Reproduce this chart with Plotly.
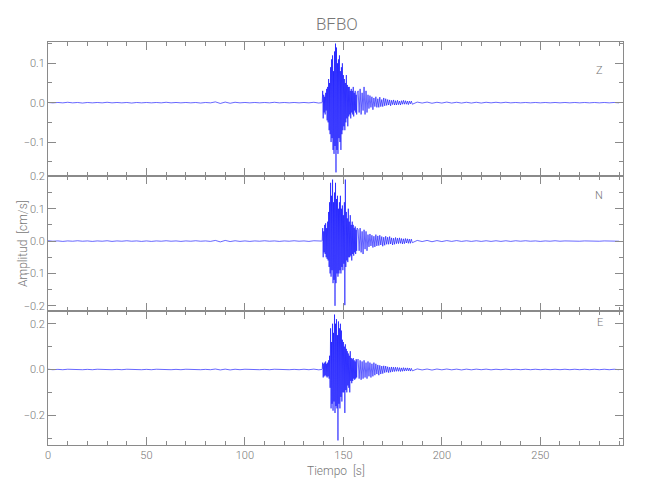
import numpy as np
import plotly.graph_objects as go
from plotly.subplots import make_subplots

station = "BFBO"
components = ["Z", "N", "E"]

# ---- pre-event noise, t = 0 .. 137.5 s (every 2.5 s) ----
z_pre = [0.0005,-0.0005,0.0005,-0.0005,0.001,-0.0005,0.0005,-0.001,0.0005,-0.0005,
         0.0005,-0.0005,0.001,-0.0005,0.0005,-0.0005,0.0005,-0.001,0.0005,-0.0005,
         0.0005,-0.0005,0.0005,-0.0005,0.001,-0.0005,0.0005,-0.0005,0.0005,-0.0005,
         0.0005,-0.001,0.0005,-0.0005,0.002,-0.002,0.0015,-0.0015,0.001,-0.0005,
         0.0005,-0.0005,0.0005,-0.0005,0.0005,-0.0005,0.001,-0.0005,0.0005,-0.0005,
         0.0005,-0.0005,0.0005,-0.0005,0.001,-0.001]
n_pre = [0.001,-0.0005,0.0005,-0.001,0.0005,-0.0005,0.001,-0.0005,0.0005,-0.001,
         0.0005,-0.0005,0.001,-0.001,0.0005,-0.0005,0.001,-0.0005,0.0005,-0.001,
         0.0005,-0.001,0.0005,-0.0005,0.001,-0.0005,0.0005,-0.001,0.0005,-0.0005,
         0.001,-0.0005,0.0005,-0.001,0.002,-0.0025,0.002,-0.0015,0.001,-0.001,
         0.0005,-0.001,0.0005,-0.0005,0.001,-0.0005,0.0005,-0.001,0.0005,-0.0005,
         0.001,-0.0005,0.0005,-0.001,0.001,-0.001]
e_pre = [0.001,-0.001,0.0005,-0.001,0.001,-0.0005,0.001,-0.001,0.0005,-0.001,
         0.001,-0.0005,0.001,-0.001,0.0005,-0.001,0.001,-0.0005,0.001,-0.001,
         0.0005,-0.001,0.001,-0.0005,0.001,-0.001,0.0005,-0.001,0.001,-0.0005,
         0.001,-0.001,0.0005,-0.001,0.002,-0.002,0.0015,-0.002,0.001,-0.001,
         0.001,-0.0005,0.001,-0.001,0.0005,-0.001,0.001,-0.0005,0.001,-0.001,
         0.0005,-0.001,0.001,-0.001,0.0015,-0.0015]

# ---- main arrivals, t = 139.0 .. 157.0 s (every 0.25 s) ----
z_main = [0.0, 0.001, 0.03, -0.04, 0.02, -0.025, 0.015, -0.03,
          0.025, -0.02, 0.035, -0.045, 0.04, -0.05, 0.06, -0.07,
          0.05, -0.08, 0.09, -0.1, 0.11, -0.09, 0.12, -0.12,
          0.08, -0.13, 0.13, -0.11, 0.15, -0.177, 0.14, -0.12,
          0.1, -0.13, 0.11, -0.09, 0.12, -0.1, 0.08, -0.12,
          0.09, -0.08, 0.1, -0.07, 0.07, -0.06, 0.06, -0.07,
          0.05, -0.05, 0.07, -0.04, 0.045, -0.06, 0.04, -0.035,
          0.04, -0.03, 0.03, -0.04, 0.035, -0.025, 0.03, -0.03,
          0.04, -0.035, 0.025, -0.02, 0.03, -0.025, 0.02, -0.03,
          0.025]
n_main = [0.0, 0.002, 0.04, -0.05, 0.03, -0.035, 0.05, -0.04,
          0.055, -0.05, 0.04, -0.055, 0.06, -0.06, 0.09, -0.08,
          0.12, -0.1, 0.18, -0.11, 0.14, -0.09, 0.19, -0.13,
          0.12, -0.12, 0.15, -0.2, 0.18, -0.13, 0.13, -0.1,
          0.14, -0.11, 0.1, -0.1, 0.12, -0.09, 0.14, -0.1,
          0.1, -0.08, 0.11, -0.09, 0.08, -0.07, 0.12, -0.198,
          0.19, -0.08, 0.09, -0.06, 0.07, -0.065, 0.1, -0.05,
          0.06, -0.05, 0.08, -0.045, 0.05, -0.06, 0.06, -0.04,
          0.05, -0.045, 0.04, -0.035, 0.045, -0.04, 0.035, -0.03,
          0.04]
e_main = [0.0, 0.003, 0.03, -0.035, 0.025, -0.03, 0.03, -0.025,
          0.035, -0.03, 0.025, -0.035, 0.03, -0.03, 0.04, -0.04,
          0.06, -0.08, 0.18, -0.17, 0.12, -0.15, 0.2, -0.18,
          0.16, -0.14, 0.24, -0.19, 0.2, -0.16, 0.22, -0.17,
          0.15, -0.31, 0.21, -0.15, 0.18, -0.17, 0.2, -0.12,
          0.17, -0.14, 0.13, -0.1, 0.12, -0.1, 0.1, -0.19,
          0.11, -0.09, 0.09, -0.1, 0.08, -0.07, 0.07, -0.08,
          0.06, -0.1, 0.08, -0.05, 0.05, -0.06, 0.045, -0.05,
          0.05, -0.04, 0.04, -0.045, 0.035, -0.04, 0.045, -0.035,
          0.04]

# ---- coda, t = 157.5 .. 185.0 s (every 0.5 s) ----
z_coda = [0.03,-0.025,0.035,-0.03,0.025,-0.02,0.04,-0.03,0.03,-0.025,
          0.02,-0.015,0.018,-0.012,0.015,-0.018,0.012,-0.01,0.015,-0.012,
          0.01,-0.012,0.014,-0.01,0.008,-0.01,0.012,-0.008,0.01,-0.007,
          0.008,-0.006,0.007,-0.008,0.006,-0.005,0.007,-0.006,0.005,-0.006,
          0.006,-0.005,0.004,-0.006,0.005,-0.004,0.006,-0.004,
          0.005,-0.004,0.004,-0.005,0.004,-0.003,0.004,-0.004]
n_coda = [0.035,-0.03,0.04,-0.035,0.03,-0.04,0.035,-0.025,0.03,-0.03,
          0.02,-0.018,0.022,-0.015,0.018,-0.02,0.015,-0.018,0.02,-0.015,
          0.016,-0.014,0.018,-0.012,0.014,-0.016,0.012,-0.013,0.015,-0.01,
          0.012,-0.01,0.014,-0.009,0.01,-0.012,0.009,-0.01,0.011,-0.008,
          0.009,-0.008,0.01,-0.007,0.008,-0.009,0.007,-0.008,
          0.008,-0.006,0.007,-0.007,0.006,-0.007,0.006,-0.005]
e_coda = [0.045,-0.04,0.04,-0.045,0.035,-0.04,0.04,-0.035,0.03,-0.04,
          0.035,-0.03,0.03,-0.035,0.025,-0.03,0.03,-0.025,0.025,-0.02,
          0.02,-0.025,0.018,-0.02,0.015,-0.018,0.016,-0.014,0.015,-0.012,
          0.012,-0.014,0.01,-0.012,0.011,-0.01,0.01,-0.009,0.01,-0.008,
          0.009,-0.008,0.008,-0.009,0.007,-0.008,0.008,-0.007,
          0.007,-0.006,0.007,-0.006,0.006,-0.007,0.005,-0.006]

# ---- late noise, t = 187.5 .. 290 s (every 2.5 s) ----
z_late = [0.0015,-0.001,0.0015,-0.0015,0.001,-0.001,0.0015,-0.001,0.001,-0.001,
          0.001,-0.001,0.001,-0.001,0.001,-0.0005,0.001,-0.0005,0.001,-0.0005,
          0.0005,-0.0005,0.0005,-0.0005,0.0005,-0.0005,0.0005,-0.0005,0.0005,-0.0005,
          0.0005,-0.0005,0.0005,-0.0005,0.0005,-0.0005,0.0005,-0.0005,0.0005,-0.0005,
          0.0005,-0.0005]
n_late = [0.002,-0.0015,0.002,-0.002,0.0015,-0.0015,0.0015,-0.001,0.0015,-0.001,
          0.001,-0.001,0.001,-0.001,0.001,-0.001,0.001,-0.001,0.001,-0.001,
          0.001,-0.0005,0.001,-0.0005,0.0005,-0.001,0.0005,-0.0005,0.001,-0.0005,
          0.0005,-0.0005,0.0005,-0.0005,0.0005,-0.0005,0.0005,-0.0005,0.0005,-0.0005,
          0.0005,-0.0005]
e_late = [0.0025,-0.002,0.002,-0.0025,0.002,-0.0015,0.002,-0.0015,0.0015,-0.002,
          0.0015,-0.0015,0.0015,-0.001,0.0015,-0.0015,0.001,-0.001,0.0015,-0.001,
          0.001,-0.001,0.001,-0.001,0.001,-0.001,0.001,-0.001,0.001,-0.001,
          0.001,-0.001,0.001,-0.001,0.001,-0.001,0.001,-0.001,0.001,-0.001,
          0.001,-0.001]

segments = [(0.0, 2.5), (139.0, 0.25), (157.5, 0.5), (187.5, 2.5)]  # start, step (s)
series = {
    "Z": [z_pre, z_main, z_coda, z_late],
    "N": [n_pre, n_main, n_coda, n_late],
    "E": [e_pre, e_main, e_coda, e_late],
}
y_ranges = {"Z": [-0.187, 0.154], "N": [-0.215, 0.2], "E": [-0.33, 0.257]}
y_dtick = {"Z": 0.1, "N": 0.1, "E": 0.2}
x_range = [0, 292]

GREY = "#8a8a8a"
TXT = "#777777"
FONT = "Roboto, Liberation Sans, sans-serif"

fig = make_subplots(rows=3, cols=1, shared_xaxes=True, vertical_spacing=0)

for i, comp in enumerate(components, start=1):
    xs, ys = [], []
    for (t0, dt), vals in zip(segments, series[comp]):
        xs.extend((t0 + dt * np.arange(len(vals))).tolist())
        ys.extend(vals)
    fig.add_trace(go.Scatter(x=xs, y=ys, mode="lines",
                             line=dict(color="#0000ff", width=0.6),
                             showlegend=False, hoverinfo="skip"), row=i, col=1)
    fig.update_yaxes(range=y_ranges[comp], dtick=y_dtick[comp], tick0=0,
                     tickformat=".1f", ticks="inside", ticklen=8, tickcolor=GREY,
                     showline=True, linecolor=GREY, linewidth=1, mirror="allticks",
                     showgrid=False, zeroline=False, automargin=False,
                     minor=dict(dtick=y_dtick[comp] / 2, tick0=0, ticks="inside",
                                ticklen=4, tickcolor=GREY),
                     tickfont=dict(size=11, color=TXT, family=FONT, weight=300),
                     row=i, col=1)
    fig.update_xaxes(range=x_range, dtick=50, tick0=0, ticks="inside", ticklen=8,
                     tickcolor=GREY, showline=True, linecolor=GREY, linewidth=1,
                     mirror="allticks", showgrid=False, zeroline=False, automargin=False,
                     minor=dict(dtick=10, tick0=0, ticks="inside", ticklen=4,
                                tickcolor=GREY),
                     tickfont=dict(size=11, color=TXT, family=FONT, weight=300),
                     row=i, col=1)

label_y = {"Z": 0.950, "N": 0.618, "E": 0.283}
for comp in components:
    fig.add_annotation(text=comp, x=0.969, y=label_y[comp], xref="paper", yref="paper",
                       showarrow=False, font=dict(size=11, color=TXT, family=FONT, weight=300))

fig.add_annotation(text="Amplitud  [cm/s]", x=-0.06, y=0.5, xref="paper", yref="paper",
                   textangle=-90, showarrow=False,
                   font=dict(size=12, color=TXT, family=FONT, weight=300))
fig.add_annotation(text="Tiempo  [s]", x=0.5, y=-0.042, xref="paper", yref="paper",
                   yanchor="top", showarrow=False,
                   font=dict(size=12, color=TXT, family=FONT, weight=300))

# the page places the figure 8 px in from the top-left corner
fig.update_layout(
    width=650, height=500,
    margin=dict(l=40, r=35, t=34, b=63, autoexpand=False),
    paper_bgcolor="white", plot_bgcolor="white",
    title=dict(text=station, x=0.506, xanchor="center", y=0.968, yanchor="middle",
               yref="container", automargin=False,
               font=dict(size=17, color=TXT, family=FONT, weight=300)),
)

fig.write_html("out.html")
